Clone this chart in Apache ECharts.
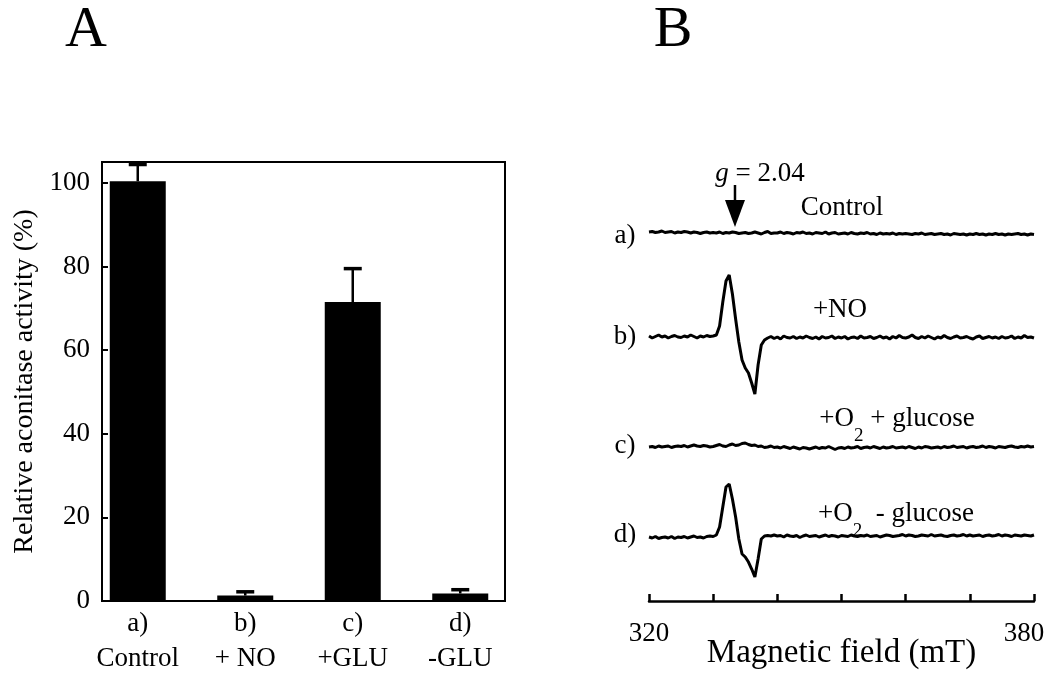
<!DOCTYPE html>
<html>
<head>
<meta charset="utf-8">
<script src="https://cdn.jsdelivr.net/npm/echarts@6/dist/echarts.min.js"></script>
<style>
html,body{margin:0;padding:0;background:#fff;}
#chart{width:1050px;height:684px;}
</style>
</head>
<body>
<div id="chart"></div>
<script>
// ---------- Panel A data ----------
const categories = ['a)\nControl', 'b)\n+ NO', 'c)\n+GLU', 'd)\n-GLU'];
const activity = [100.4, 1.3, 71.5, 1.8];
const activityErr = [4.0, 0.9, 8.0, 0.9];

// ---------- Panel B data (EPR traces, arbitrary units) ----------
const fieldB = [
 320,320.5,321,321.5,322,322.5,323,323.5,324,324.5,
 325,325.5,326,326.5,327,327.5,328,328.5,329,329.5,
 330,330.5,331,331.5,332,332.5,333,333.5,334,334.5,
 335,335.5,336,336.5,337,337.5,338,338.5,339,339.5,
 340,340.5,341,341.5,342,342.5,343,343.5,344,344.5,
 345,345.5,346,346.5,347,347.5,348,348.5,349,349.5,
 350,350.5,351,351.5,352,352.5,353,353.5,354,354.5,
 355,355.5,356,356.5,357,357.5,358,358.5,359,359.5,
 360,360.5,361,361.5,362,362.5,363,363.5,364,364.5,
 365,365.5,366,366.5,367,367.5,368,368.5,369,369.5,
 370,370.5,371,371.5,372,372.5,373,373.5,374,374.5,
 375,375.5,376,376.5,377,377.5,378,378.5,379,379.5,380
];
const traceA = [
 1,1.5,0.5,1,2,0.5,1,1.5,0,1,
 0.5,1.5,1,0,1,0.5,-0.5,0.5,1,0,
 0.5,0,1,-0.5,0.5,0,1,0.5,-0.5,0,
 0.5,-0.5,0,1,0,-1,0.5,1.5,-0.5,0,
 0,1,-0.5,0.5,0,-1,0.5,0,1,-0.5,
 0,-1,0.5,0,-0.5,1,-1,0,0.5,-1,
 -0.5,0,-1,0.5,-0.5,-1,0,-0.5,0.5,-1,
 -0.5,-1.5,0,-1,-0.5,-1,0,-1.5,-0.5,-1,
 -0.5,-1,-1.5,-0.5,-1,0,-1.5,-1,-0.5,-1.5,
 -1,-0.5,-1.5,-1,-2,-0.5,-1,-1.5,-1,-2,
 -1,-1.5,-0.5,-1.5,-1,-2,-1,-1.5,-0.5,-1.5,
 -1,-2,-1,-1.5,-1,-0.5,-1.5,-1,-2,-1,-1.5
];
const traceB = [
 1,-1,0.5,2,0,1,-1,0.5,1.5,0,
 -0.5,1,0,2,0.5,-1,1,0,1.5,0.5,
 1,2,11,35,56,62,43,18,-5,-23,
 -31,-36,-46,-57,-28,-8,-3,-1,0.5,-1.5,
 0,-2,1,-0.5,-1,0.5,-1.5,0,-1,1,
 -0.5,-1.5,0,-2,0.5,-1,-0.5,1,-1.5,0,
 -1,0.5,-2,-0.5,0,-1.5,1,-1,-0.5,0.5,
 -1.5,-0.5,1,-1,0,-2,0.5,-1,1.5,-0.5,
 -1,0,2,-0.5,-1.5,0.5,-1,1,-0.5,-2,
 0,-1,1.5,-0.5,-1.5,0,1,-1,-0.5,0.5,
 -1,-2,0,1,-1.5,-0.5,0.5,-1,0,-1.5,
 0.5,-1,-0.5,1,-1.5,0,-1,1.5,-0.5,0,-1
];
const traceC = [
 0,0.5,-0.5,1,0,0.5,1,-0.5,0.5,1,
 0.5,1.5,0,1,2,1,0.5,1.5,1,0,
 0.5,1.5,2.5,1,0.5,2,3,1.5,2,3.5,
 4,2.5,1.5,2,0.5,1,-0.5,0,1,-0.5,
 0,-1,0.5,-0.5,-1.5,0,-1,-2,-0.5,-1,
 -2,-1,0,-1.5,-0.5,-1,0.5,-1,-2.5,-1,
 -0.5,-1.5,0,-1,-0.5,0.5,-1.5,-0.5,0,-1,
 0.5,-0.5,-1.5,0,-1,-0.5,0.5,-1,-0.5,0,
 -1,0.5,-0.5,-1.5,0,-1,0.5,0,-1,-0.5,
 0,-1,0.5,-0.5,0,1,-0.5,0,0.5,-1,
 0,0.5,-0.5,0,1,-0.5,0.5,0,-1,0.5,
 0,-0.5,0.5,1,0,-0.5,0.5,0,1,0,0.5
];
const traceD = [
 0,-1,0.5,-1.5,-0.5,0,-1,0.5,-1.5,0,
 -0.5,0.5,-1,0,1,-0.5,0,-1,0.5,1,
 0.5,2,10,30,50,53,38,20,-2,-17,
 -20,-25,-32,-40,-22,-2,1,1.5,1,2,
 1,1.5,0,2,1,0.5,1.5,-0.5,1,2,
 0.5,1,1.5,0,1,2,0.5,1.5,1,0,
 1.5,1,0.5,2,1,0.5,1.5,1,2,0.5,
 1,1.5,0,1,2,1.5,0.5,1,1.5,2.5,
 1,2,1.5,0.5,1,2,1.5,1,2.5,1,
 1.5,2,1,0.5,1.5,2,1,1.5,2.5,1,
 2,1,1.5,2,0.5,1.5,2,1,1.5,2.5,
 1,2,1.5,0.5,2,1.5,1,2,1.5,1,2
];
const gField = 333.4;       // position of g = 2.04 marker (mT)
const fieldTicks = [320, 380];

// ---------- build ----------
const FONT = '"Liberation Serif", "Times New Roman", serif';
const chart = echarts.init(document.getElementById('chart'), null, {renderer: 'canvas'});

function zip(xs, ys) { return xs.map((x, i) => [x, ys[i]]); }
const traces = [traceA, traceB, traceC, traceD];
const traceCenters = [233, 337, 447, 537];

const grids = [
  {left: 102, top: 162, width: 403, height: 439, show: true, borderColor: '#000', borderWidth: 2, backgroundColor: 'transparent'},
  {left: 84, top: 162, width: 430, height: 439}
];
const xAxes = [
  {gridIndex: 0, type: 'value', min: 0, max: 1, show: false},
  {gridIndex: 1, type: 'category', data: categories,
   axisLine: {show: false}, axisTick: {show: false},
   axisLabel: {color: '#000', fontFamily: FONT, fontSize: 27, lineHeight: 35, margin: 5}}
];
const yAxes = [
  {gridIndex: 0, type: 'value', min: 0, max: 105, interval: 20,
   axisLine: {show: true, lineStyle: {color: '#000', width: 2}},
   axisTick: {show: true, inside: true, length: 6, lineStyle: {color: '#000', width: 2}},
   splitLine: {show: false},
   axisLabel: {color: '#000', fontFamily: FONT, fontSize: 27, margin: 12,
     formatter: v => (v % 20 === 0 ? String(v) : '')},
   name: 'Relative aconitase activity (%)', nameLocation: 'middle', nameGap: 63, nameMoveOverlap: false,
   nameTextStyle: {color: '#000', fontFamily: FONT, fontSize: 28}},
  {gridIndex: 1, type: 'value', min: 0, max: 105, show: false}
];

traceCenters.forEach((c, k) => {
  grids.push({left: 649, width: 385, top: c - 70, height: 140});
  xAxes.push({gridIndex: 2 + k, type: 'value', min: 320, max: 380, show: false});
  yAxes.push({gridIndex: 2 + k, type: 'value', min: -70, max: 70, show: false});
});
grids.push({left: 649, width: 385, top: 500, height: 101});
xAxes.push({gridIndex: 6, type: 'value', min: 320, max: 380, interval: 10,
  axisLine: {show: true, lineStyle: {color: '#000', width: 2.5}},
  axisTick: {show: true, inside: true, length: 7, lineStyle: {color: '#000', width: 2.5}},
  splitLine: {show: false},
  axisLabel: {color: '#000', fontFamily: FONT, fontSize: 27, margin: 19,
    formatter: v => (v === fieldTicks[0] ? String(v) : v === fieldTicks[1] ? '{r|' + v + '}' : ''),
    rich: {r: {fontFamily: FONT, fontSize: 27, color: '#000', padding: [0, 20, 0, 0]}}},
  name: 'Magnetic field (mT)', nameLocation: 'middle', nameGap: 36, nameMoveOverlap: false,
  nameTextStyle: {color: '#000', fontFamily: FONT, fontSize: 33}});
yAxes.push({gridIndex: 6, type: 'value', min: 0, max: 1, show: false});

const series = [
  {type: 'bar', xAxisIndex: 1, yAxisIndex: 1, data: activity, barWidth: 56,
   itemStyle: {color: '#000'}, silent: true},
  {type: 'custom', xAxisIndex: 1, yAxisIndex: 1,
   data: activity.map((v, i) => [i, v, activityErr[i]]),
   renderItem: function (params, api) {
     const i = api.value(0), v = api.value(1), e = api.value(2);
     const p0 = api.coord([i, v]);
     const p1 = api.coord([i, v + e]);
     return {type: 'group', children: [
       {type: 'line', shape: {x1: p0[0], y1: p0[1], x2: p1[0], y2: p1[1]},
        style: {stroke: '#000', lineWidth: 2.5}},
       {type: 'line', shape: {x1: p1[0] - 9, y1: p1[1], x2: p1[0] + 9, y2: p1[1]},
        style: {stroke: '#000', lineWidth: 3.5}}
     ]};
   }}
];
traces.forEach((t, k) => {
  series.push({type: 'line', xAxisIndex: 2 + k, yAxisIndex: 2 + k, data: zip(fieldB, t),
    showSymbol: false, symbol: 'none', lineStyle: {color: '#000', width: 3}, silent: true});
});
// g = 2.04 arrow on trace a
series.push({type: 'custom', xAxisIndex: 2, yAxisIndex: 2, data: [[gField, 0]],
  renderItem: function (params, api) {
    const p = api.coord([api.value(0), api.value(1)]);
    const x = p[0], y = p[1];
    return {type: 'group', children: [
      {type: 'line', shape: {x1: x, y1: y - 48, x2: x, y2: y - 30}, style: {stroke: '#000', lineWidth: 2.5}},
      {type: 'polygon', shape: {points: [[x - 10, y - 33], [x + 10, y - 33], [x, y - 6]]}, style: {fill: '#000'}},
      {type: 'text', style: {x: x + 25, y: y - 59, text: '{i|g} = 2.04', align: 'center', verticalAlign: 'middle',
        rich: {i: {fontStyle: 'italic', fontFamily: FONT, fontSize: 27, fill: '#000'}},
        font: '27px ' + FONT, fill: '#000'}}
    ]};
  }});

function txt(x, y, text, size, rich) {
  const o = {type: 'text', style: {x: x, y: y, text: text, fill: '#000', font: size + 'px ' + FONT,
    align: 'center', verticalAlign: 'middle'}};
  if (rich) o.style.rich = rich;
  return o;
}
const subRich = {
  n: {fontFamily: FONT, fontSize: 27, fill: '#000', verticalAlign: 'bottom', lineHeight: 30},
  s: {fontFamily: FONT, fontSize: 19, fill: '#000', verticalAlign: 'bottom', lineHeight: 30, padding: [0, 0, -14, 0]}
};

const graphic = [
  txt(86, 31, 'A', 58),
  txt(673, 31, 'B', 58),
  txt(625, 236, 'a)', 27),
  txt(625, 337, 'b)', 27),
  txt(625, 446, 'c)', 27),
  txt(625, 535, 'd)', 27),
  txt(842, 208, 'Control', 27),
  txt(840, 310, '+NO', 27),
  txt(897, 417, '{n|+O}{s|2}{n| + glucose}', 27, subRich),
  txt(896, 512, '{n|+O}{s|2}{n|  - glucose}', 27, subRich)
];

chart.setOption({
  animation: false,
  backgroundColor: '#fff',
  textStyle: {fontFamily: FONT, color: '#000'},
  grid: grids, xAxis: xAxes, yAxis: yAxes, series: series, graphic: graphic
});
</script>
</body>
</html>
